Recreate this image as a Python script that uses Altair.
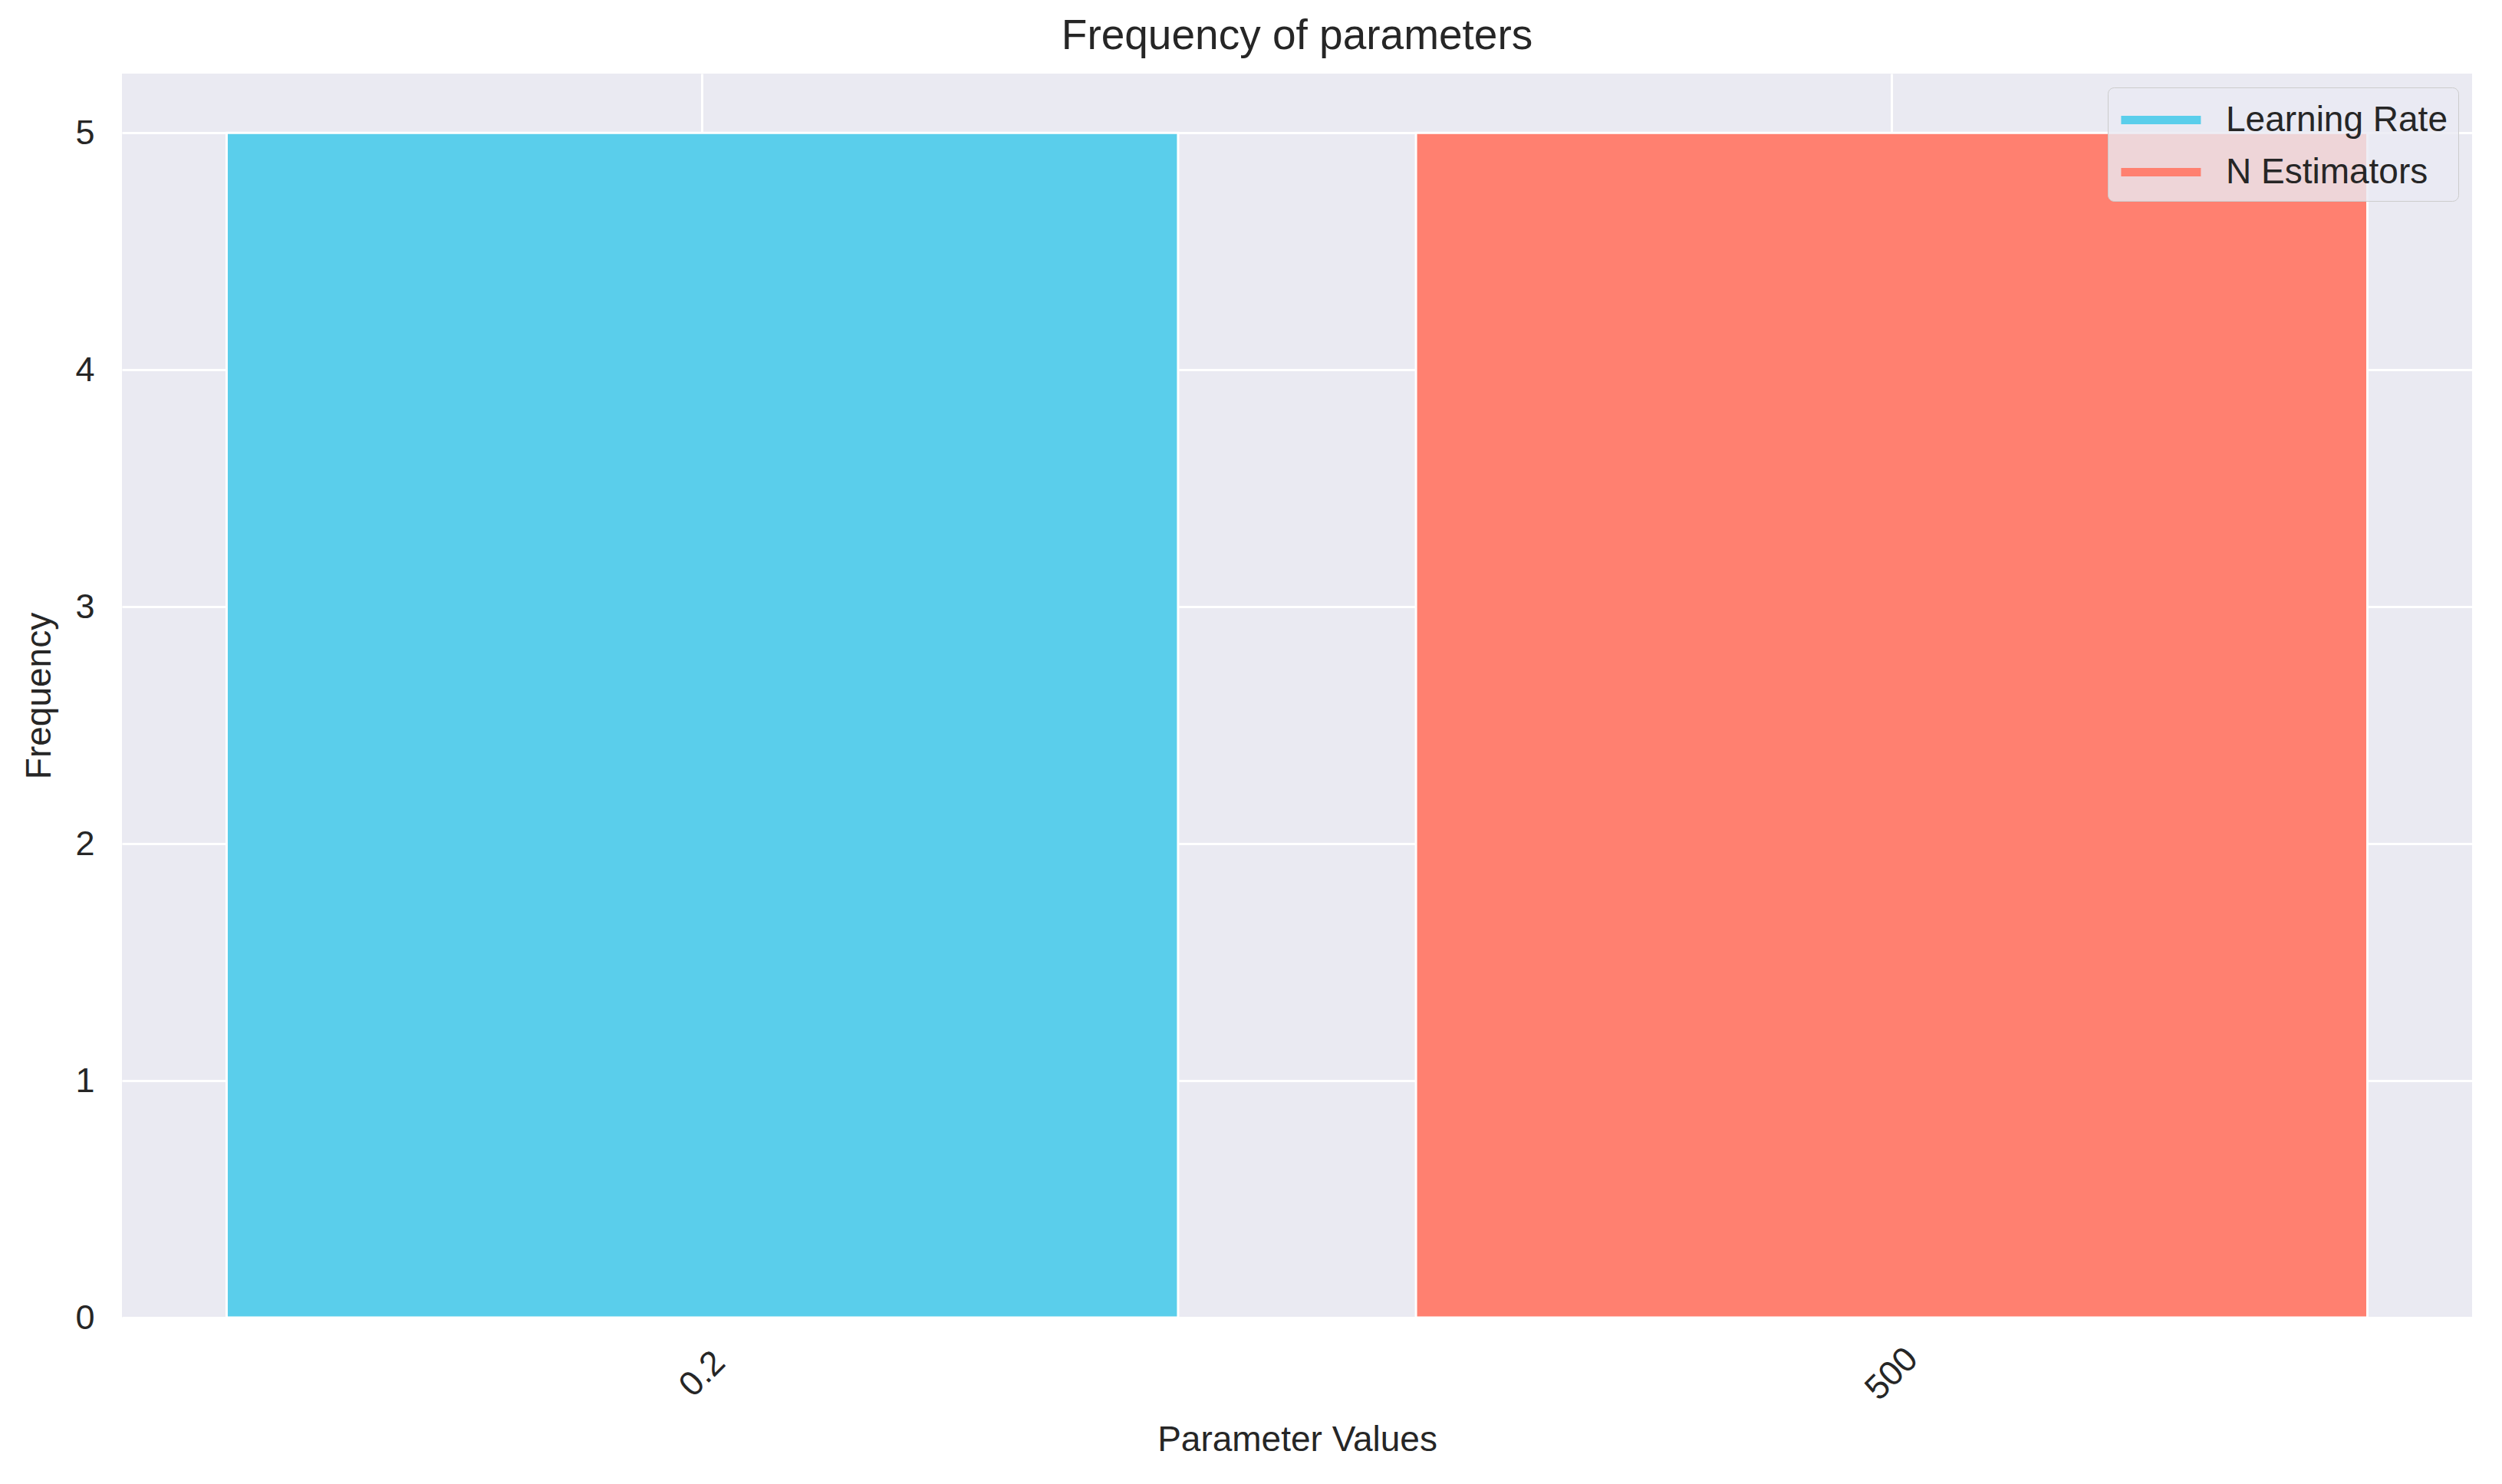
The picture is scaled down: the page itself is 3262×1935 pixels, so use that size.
import altair as alt
import pandas as pd

# Data
param_values = ["0.2", "500"]
frequencies = [5, 5]
series = ["Learning Rate", "N Estimators"]
colors = ["#5ACEEB", "#FF8070"]
y_ticks = [0, 1, 2, 3, 4, 5]

df = pd.DataFrame({"value": param_values, "freq": frequencies, "param": series})

FONT = "Liberation Sans"
TXT = "#262626"

x_enc = alt.X(
    "value:N",
    sort=param_values,
    title="Parameter Values",
    scale=alt.Scale(paddingInner=0.2, paddingOuter=0.088),
    axis=alt.Axis(
        labelAngle=315,
        labelAlign="center",
        labelBaseline="middle",
        labelPadding=73,
        ticks=False,
        tickSize=0,
        domain=False,
        grid=True,
        bandPosition=0.5,
        titlePadding=22,
    ),
)
y_enc = alt.Y(
    "freq:Q",
    title="Frequency",
    scale=alt.Scale(domain=[0, 5.25], nice=False, zero=True),
    axis=alt.Axis(
        values=y_ticks,
        format="d",
        ticks=False,
        tickSize=0,
        domain=False,
        grid=True,
        labelPadding=36,
        titlePadding=22,
    ),
)
color_scale = alt.Scale(domain=series, range=colors)

# zero-length lines: only provide the line-style legend
legend_layer = (
    alt.Chart(df)
    .mark_line(strokeWidth=11)
    .encode(
        x=x_enc,
        y=y_enc,
        color=alt.Color(
            "param:N",
            scale=color_scale,
            legend=alt.Legend(
                title=None,
                titlePadding=0,
                orient="top-right",
                offset=18,
                symbolType="M-1.09,0H3.43",
                symbolSize=2116,
                symbolStrokeWidth=11,
                labelFontSize=46,
                labelFont=FONT,
                labelColor=TXT,
                labelLimit=1000,
                labelOffset=83,
                rowPadding=16,
                padding=14,
                fillColor="rgba(234,234,242,0.8)",
                strokeColor="#cccccc",
                cornerRadius=8,
            ),
        ),
    )
)

bars = (
    alt.Chart(df)
    .mark_bar(stroke="white", strokeWidth=3)
    .encode(
        x=x_enc,
        y=y_enc,
        color=alt.Color("param:N", scale=color_scale, legend=None),
    )
)

chart = (
    alt.layer(legend_layer, bars)
    .properties(
        width=3064,
        height=1622,
        title=alt.TitleParams(
            "Frequency of parameters",
            fontSize=55,
            font=FONT,
            fontWeight="normal",
            color=TXT,
            offset=20,
        ),
        background="white",
        padding={"left": 20, "top": 12, "right": 5, "bottom": 5},
    )
    .configure_view(fill="#EAEAF2", stroke=None)
    .configure_axis(
        gridColor="white",
        gridWidth=3,
        labelFont=FONT,
        labelFontSize=45,
        labelColor=TXT,
        titleFont=FONT,
        titleFontSize=46,
        titleFontWeight="normal",
        titleColor=TXT,
    )
)

chart.save("out.html", embed_options={"renderer": "svg", "actions": False})
